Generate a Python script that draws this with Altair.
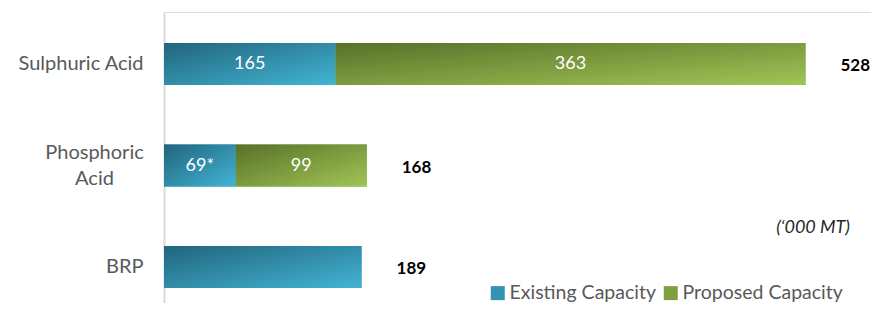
import altair as alt
import pandas as pd

# ---- data ----
categories = ["Sulphuric Acid", "Phosphoric Acid", "BRP"]
series = ["Existing Capacity", "Proposed Capacity"]
# bar lengths as drawn (axis units)
existing_len = [165, 69, 190]
proposed_len = [452, 126, 0]
# labels printed on the bars
existing_lbl = ["165", "69*", ""]
proposed_lbl = ["363", "99", ""]
# totals printed to the right
total_lbl = ["528", "168", "189"]
unit_note = "(\u2018000 MT)"

rows = []
for i, c in enumerate(categories):
    e, p = existing_len[i], proposed_len[i]
    rows.append(dict(cat=c, series=series[0], start=0, end=e, lbl=existing_lbl[i]))
    if p > 0:
        rows.append(dict(cat=c, series=series[1], start=e, end=e + p, lbl=proposed_lbl[i]))
df = pd.DataFrame(rows)
df["mid"] = (df["start"] + df["end"]) / 2

tot = pd.DataFrame(dict(cat=categories,
                        end=[existing_len[i] + proposed_len[i] for i in range(3)],
                        lbl=total_lbl))

FONT = "Lato"
grad_existing = {"gradient": "linear", "x1": 0, "y1": 0, "x2": 1, "y2": 1,
                 "stops": [{"offset": 0, "color": "#21657c"},
                           {"offset": 1, "color": "#42b4d4"}]}
grad_proposed = {"gradient": "linear", "x1": 0, "y1": 0, "x2": 1, "y2": 1,
                 "stops": [{"offset": 0, "color": "#587129"},
                           {"offset": 1, "color": "#a1c555"}]}

is_pa = "datum.value == 'Phosphoric Acid'"
y_enc = alt.Y("cat:N", sort=categories, title=None,
              scale=alt.Scale(paddingInner=0.586, paddingOuter=0.2266, align=0.674),
              axis=alt.Axis(domain=True, domainColor="#d9d9d9", domainWidth=2,
                            ticks=False, grid=False,
                            labelFont=FONT, labelFontSize=20, labelColor="#595959",
                            labelLineHeight=26,
                            labelAlign=alt.condition(is_pa, alt.value("center"), alt.value("right")),
                            labelPadding=alt.condition(is_pa, alt.value(70), alt.value(21)),
                            labelOffset=alt.condition(is_pa, alt.value(-13), alt.value(0)),
                            labelExpr="datum.value == 'Phosphoric Acid' ? ['Phosphoric', 'Acid'] : datum.value"))
x_scale = alt.Scale(domain=[0, 680], nice=False)
x_enc = alt.X("start:Q", scale=x_scale, axis=None)

base = alt.Chart(df)

legend_bars = base.mark_bar(cornerRadius=0).encode(
    x=x_enc, x2="end:Q", y=y_enc,
    color=alt.Color("series:N", sort=series,
                    scale=alt.Scale(domain=series, range=["#3493b0", "#7fa03f"]),
                    legend=alt.Legend(title=None, orient="none", direction="horizontal",
                                      legendX=324, legendY=271,
                                      symbolType="square", symbolSize=196,
                                      symbolStrokeWidth=0, symbolOpacity=1,
                                      labelFont=FONT, labelFontSize=19.5, labelLimit=400,
                                      labelColor="#595959", labelOffset=2,
                                      columnPadding=5, padding=0)))

grad_bars = base.mark_bar().encode(
    x=x_enc, x2="end:Q", y=y_enc,
    color=alt.condition("datum.series == 'Existing Capacity'",
                        alt.value(grad_existing), alt.value(grad_proposed)))

in_lbl = base.mark_text(font=FONT, fontSize=18, color="white", baseline="middle",
                        align="center").encode(
    x=alt.X("mid:Q", scale=x_scale), y=alt.Y("cat:N", sort=categories), text="lbl:N")

tot_lbl = alt.Chart(tot).mark_text(font=FONT, fontSize=17, fontWeight="bold",
                                   color="black", align="left", baseline="middle",
                                   dx=35, dy=2).encode(
    x=alt.X("end:Q", scale=x_scale), y=alt.Y("cat:N", sort=categories), text="lbl:N")

note = alt.Chart(pd.DataFrame({"t": [unit_note]})).mark_text(
    font=FONT, fontSize=18, fontStyle="italic", color="#262626",
    align="right", baseline="middle").encode(
    x=alt.value(686), y=alt.value(216), text="t:N")

chart = alt.layer(legend_bars, grad_bars, in_lbl, tot_lbl, note).properties(
    width=707, height=291, autosize="none",
    padding={"left": 156, "top": 4, "right": 0, "bottom": 0}
).configure_view(stroke=None).configure(background="white")

chart.save("out.html", embed_options={"renderer": "svg", "actions": False})
